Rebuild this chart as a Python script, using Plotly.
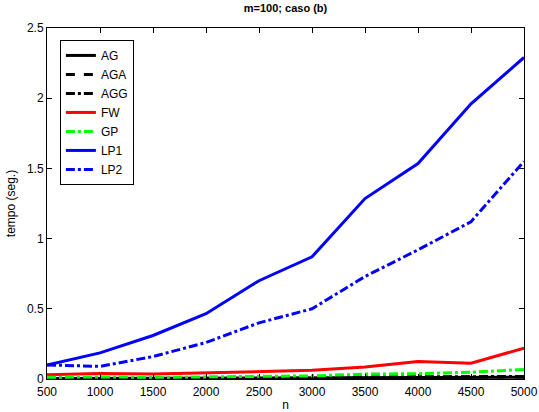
import plotly.graph_objects as go

n = [500, 1000, 1500, 2000, 2500, 3000, 3500, 4000, 4500, 5000]
AG = [0.004, 0.005, 0.006, 0.006, 0.007, 0.008, 0.009, 0.010, 0.011, 0.012]
AGA = [0.005, 0.006, 0.007, 0.008, 0.009, 0.010, 0.011, 0.012, 0.013, 0.015]
AGG = [0.006, 0.007, 0.008, 0.009, 0.010, 0.012, 0.013, 0.015, 0.016, 0.018]
FW = [0.030, 0.040, 0.035, 0.045, 0.055, 0.062, 0.085, 0.125, 0.112, 0.220]
GP = [0.012, 0.015, 0.012, 0.016, 0.022, 0.022, 0.035, 0.038, 0.048, 0.068]
LP1 = [0.100, 0.186, 0.310, 0.465, 0.700, 0.870, 1.285, 1.535, 1.960, 2.290]
LP2 = [0.100, 0.090, 0.160, 0.260, 0.400, 0.500, 0.730, 0.920, 1.120, 1.550]

series = [
    ("AG", AG, "black", "solid"),
    ("AGA", AGA, "black", "dash"),
    ("AGG", AGG, "black", "dashdot"),
    ("FW", FW, "red", "solid"),
    ("GP", GP, "#00ff00", "dashdot"),
    ("LP1", LP1, "blue", "solid"),
    ("LP2", LP2, "blue", "dashdot"),
]

fig = go.Figure()
for name, y, color, dash in series:
    fig.add_trace(go.Scatter(x=n, y=y, mode="lines", name=name,
                             line=dict(color=color, width=3, dash=dash)))

font = "Liberation Sans, Arial, sans-serif"
fig.update_layout(
    width=539, height=412,
    margin=dict(l=47, r=15, t=28, b=33),
    paper_bgcolor="white", plot_bgcolor="white",
    font=dict(family=font, size=12, color="black"),
    title=dict(text="<b>m=100; caso (b)</b>", x=0.5, xref="paper", xanchor="center",
               y=1, yref="container", yanchor="top", pad=dict(t=4),
               font=dict(size=11, family=font)),
    showlegend=True,
    legend=dict(x=0.027, y=0.966, xanchor="left", yanchor="top",
                bordercolor="black", borderwidth=1, bgcolor="white",
                font=dict(size=12, family=font), tracegroupgap=0),
    xaxis=dict(range=[500, 5000], tickvals=[500, 1000, 1500, 2000, 2500, 3000, 3500, 4000, 4500, 5000],
               showgrid=False, zeroline=False, showline=True, linecolor="black", linewidth=1,
               mirror="ticks", ticks="inside", ticklen=5, tickcolor="black",
               automargin=False, ticklabelstandoff=2, ticklabeloverflow="allow",
               title=dict(text="n", standoff=2, font=dict(size=12))),
    yaxis=dict(range=[0, 2.5], tickvals=[0, 0.5, 1, 1.5, 2, 2.5],
               ticktext=["0", "0.5", "1", "1.5", "2", "2.5"],
               showgrid=False, zeroline=False, showline=True, linecolor="black", linewidth=1,
               mirror="ticks", ticks="inside", ticklen=5, tickcolor="black",
               automargin=False, ticklabeloverflow="allow",
               title=dict(text="tempo (seg.)", standoff=8, font=dict(size=12))),
)
fig.write_html("out.html", config={"displayModeBar": False},
               post_script="document.body.style.margin='0';")
